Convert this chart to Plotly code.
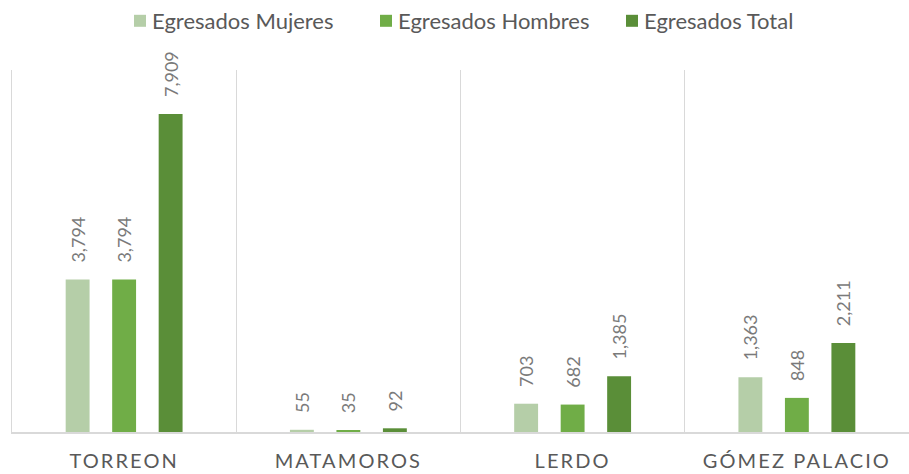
import plotly.graph_objects as go

categories = ["TORREON", "MATAMOROS", "LERDO", "GÓMEZ PALACIO"]
series_names = ["Egresados Mujeres", "Egresados Hombres", "Egresados Total"]
mujeres = [3794, 55, 703, 1363]
hombres = [3794, 35, 682, 848]
total = [7909, 92, 1385, 2211]
colors = ["#b5cea8", "#70ad47", "#5a8e38"]

fig = go.Figure()
for name, vals, col in zip(series_names, [mujeres, hombres, total], colors):
    fig.add_trace(go.Bar(
        name=name, x=categories, y=vals, marker_color=col,
        marker_line_width=0,
        texttemplate="\u00a0\u00a0\u00a0%{y:,}", textposition="outside",
        textangle=-90, constraintext="none", cliponaxis=False,
        textfont=dict(family="Lato, sans-serif", size=18, color="#7a7a7a"),
    ))

fig.update_layout(
    width=909, height=474,
    margin=dict(l=12, r=0, t=66, b=42),
    paper_bgcolor="white", plot_bgcolor="white",
    barmode="group", bargap=0.378, bargroupgap=0.486,
    showlegend=True,
    legend=dict(orientation="h", x=0.1115, xanchor="left", y=1.194, yanchor="top",
                entrywidth=201, entrywidthmode="pixels",
                font=dict(family="Lato, sans-serif", size=22, color="#595959"),
                traceorder="normal"),
    font=dict(family="Lato, sans-serif", color="#595959"),
)
fig.update_xaxes(
    tickson="boundaries", showgrid=True, gridcolor="#d9d9d9", gridwidth=1,
    showline=True, linecolor="#d9d9d9", linewidth=2, ticks="",
    ticklabelstandoff=10,
    tickfont=dict(family="Lato, sans-serif", size=20, color="#595959"),
)
fig.update_yaxes(range=[0, 9000], showgrid=False, showticklabels=False,
                 zeroline=False, showline=True, linecolor="#d9d9d9", linewidth=1)

post = """
document.body.style.margin='0';
var gd = document.getElementById('{plot_id}');
function tweak(){
  gd.querySelectorAll('g.xtick text').forEach(function(t){
    t.setAttribute('letter-spacing','2.1px');
  });
  gd.querySelectorAll('.legend g.legendpoints').forEach(function(g){
    if (!g.getAttribute('data-shifted')) {
      var tr = g.getAttribute('transform') || '';
      g.setAttribute('transform', tr + ' translate(8,0)');
      g.setAttribute('data-shifted', '1');
    }
  });
}
tweak();
if (gd.on) { gd.on('plotly_afterplot', tweak); }
setTimeout(tweak, 50);
"""

fig.write_html("out.html", post_script=post, config={"displayModeBar": False})
